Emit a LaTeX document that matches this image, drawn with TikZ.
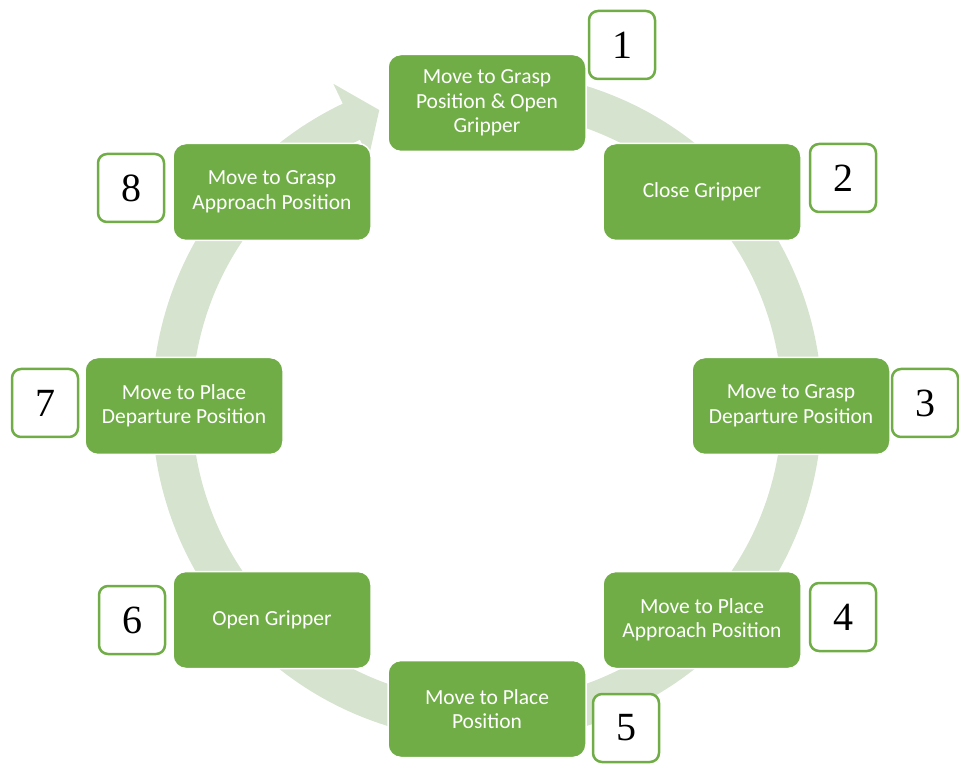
\documentclass[tikz,border=0pt]{standalone}
\usepackage{fontspec}
\setmainfont{Carlito}
\newfontfamily\numfont{Liberation Serif}
\definecolor{stagegreen}{RGB}{112,173,71}
\definecolor{ringgreen}{RGB}{213,227,207}
\begin{document}
\begin{tikzpicture}[x=1pt,y=1pt,
  stage/.style={draw=white, line width=1.5pt, fill=stagegreen, rounded corners=13pt,
    minimum width=198pt, minimum height=97pt, inner sep=0pt, text=white, align=center,
    font=\fontsize{21.5}{24.5}\selectfont},
  numbox/.style={draw=stagegreen, line width=2.5pt, fill=white, rounded corners=9pt,
    minimum width=66pt, minimum height=68pt, inner sep=0pt,
    font=\numfont\fontsize{40}{40}\selectfont}]
\useasboundingbox (0,0) rectangle (959,764);

% circular arrow running clockwise behind the stages
\begin{scope}[shift={(487,358)}]
  \fill[ringgreen] (80:335) arc[start angle=80, end angle=-244.5, radius=335]
    -- (-244.5:357) -- (-250:315) -- (-244.5:275) -- (-244.5:295)
    arc[start angle=-244.5, end angle=80, radius=295] -- cycle;
\end{scope}

% process stages
\node[stage] (s1) at (487,661) {Move to Grasp\\Position \& Open\\Gripper};
\node[stage] (s2) at (702,572) {Close Gripper};
\node[stage] (s3) at (791,358) {Move to Grasp\\Departure Position};
\node[stage] (s4) at (702,144) {Move to Place\\Approach Position};
\node[stage] (s5) at (487,55)  {Move to Place\\Position};
\node[stage] (s6) at (272,144) {Open Gripper};
\node[stage] (s7) at (184,358) {Move to Place\\Departure Position};
\node[stage] (s8) at (272,572) {Move to Grasp\\Approach Position};

% step numbers
\node[numbox] (n1) at (622,719) {1};
\node[numbox] (n2) at (843,586) {2};
\node[numbox] (n3) at (925,361) {3};
\node[numbox] (n4) at (843,147) {4};
\node[numbox] (n5) at (626,36)  {5};
\node[numbox] (n6) at (132,144) {6};
\node[numbox] (n7) at (45,361)  {7};
\node[numbox] (n8) at (131,576) {8};
\end{tikzpicture}
\end{document}
